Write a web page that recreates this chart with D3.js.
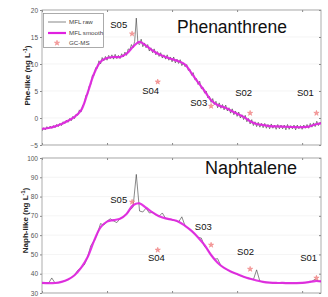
<!DOCTYPE html>
<html><head><meta charset="utf-8">
<script src="https://cdn.jsdelivr.net/npm/d3@7"></script>
<style>
html,body{margin:0;padding:0;background:#fff;}
svg{display:block;font-family:"Liberation Sans",Arial,sans-serif;}
</style></head>
<body>
<svg id="chart" width="328" height="297"></svg>
<script>
// x positions (arbitrary units, ticks unlabeled in the crop)
const xTicks = [0, 1, 2, 3, 4];
const pheRawStep = 0.025, naphRawStep = 0.05, smoothStep = 0.1;

// Phenanthrene
const pheRaw = [
  -2.4,-1.8,-2.2,-1.6, -2.0,-1.5,-1.9,-1.4, -1.8,-1.2,-1.6,-1.0, -1.4,-0.7,-1.0,-0.4, -0.8,-0.1,-0.5,0.3,
  -0.1,0.7,0.5,1.5, 1.1,2.3,2.6,4.2, 4.3,5.9,6.2,7.9, 7.9,9.3,9.2,10.6, 10.0,11.2,10.6,11.4,
  10.7,11.6,11.0,11.7, 10.9,11.8,11.0,11.6, 11.0,11.9,11.3,12.2, 11.6,12.8,12.6,13.6, 13.0,14.2,18.5,13.8,
  13.6,14.6,13.2,13.9, 13.0,13.6,12.4,13.0, 12.1,12.8,11.7,12.3, 11.4,12.1,11.1,11.7, 10.9,11.7,10.7,11.3,
  10.4,11.3,10.2,10.9, 10.1,10.8,9.7,10.2, 9.5,9.9,8.8,9.0, 7.9,8.4,7.1,7.3, 6.2,6.8,5.4,5.7,
  4.6,5.0,3.7,4.0, 2.9,3.6,2.5,3.1, 1.9,2.8,1.8,2.5, 1.5,2.4,1.3,1.9, 0.9,1.7,0.6,1.3,
  0.3,1.1,0.0,0.6, -0.3,0.5,-0.7,-0.1, -1.1,-0.3,-1.4,-0.7, -1.6,-0.8,-1.7,-1.0, -1.8,-1.0,-1.9,-1.2,
  -2.0,-1.1,-1.9,-1.3, -2.1,-1.2,-2.0,-1.3, -2.0,-1.3,-2.2,-1.2, -2.1,-1.4,-2.0,-1.3, -2.2,-1.3,-2.0,-1.4,
  -2.1,-1.3,-1.9,-1.2, -1.9,-1.0,-1.7,-0.9, -1.6,-0.6,-1.4,-0.8, -1.1];
const pheSmooth = [-2.0,-1.85,-1.55,-1.1,-0.5,0.2,1.4,4.6,8.2,10.4,
  11.1,11.3,11.3,11.9,13.2,14.1,13.4,12.5,11.8,11.3,
  10.9,10.5,9.9,8.3,6.6,5.0,3.3,2.4,2.0,1.4,
  0.8,0.2,-0.6,-1.1,-1.3,-1.5,-1.55,-1.6,-1.65,-1.7,
  -1.7,-1.6,-1.2,-1.0];
const pheTicks = [-5, 0, 5, 10, 15, 20];

// Naphtalene
const naphRaw = [35.0,35.3,35.0,37.8,35.2,35.4,35.8,36.2,37.0,38.0,39.2,41.8,43.0,44.5,48.5,54.5,57.0,60.5,66.0,65.2,
  67.2,68.5,67.4,66.5,68.6,69.5,71.0,73.0,74.5,91.5,72.5,72.0,74.0,71.5,71.8,70.5,69.8,71.5,68.7,68.2,
  68.0,67.5,66.8,69.5,64.8,63.6,62.2,60.6,58.8,58.5,54.0,52.5,49.7,47.5,47.8,44.2,43.0,42.0,41.2,40.4,
  39.8,39.0,38.4,37.9,37.4,36.9,42.0,36.1,35.8,35.6,35.4,35.3,35.2,35.2,35.2,35.1,35.1,35.1,35.1,35.2,
  35.2,35.4,35.6,36.0,37.2,36.1,36.0];
const naphSmooth = [35.2,35.1,35.2,35.8,37.0,39.2,43.0,48.5,57.0,64.0,
  67.0,67.8,68.5,71.0,75.5,76.5,74.2,71.8,69.8,68.7,
  68.0,67.0,64.8,62.2,58.8,54.8,49.7,45.7,43.0,41.2,
  39.8,38.4,37.4,36.5,35.8,35.4,35.2,35.2,35.1,35.1,
  35.2,35.6,36.2,36.0];
const naphTicks = [30, 40, 50, 60, 70, 80, 90, 100];

// GC-MS samples
const samples = ["S05", "S04", "S03", "S02", "S01"];
const sampleX = [1.385, 1.78, 2.6, 3.2, 4.22];
const pheGC = [15.6, 6.7, 2.2, 0.9, 0.9];
const naphGC = [77.2, 52.3, 54.9, 42.4, 37.8];
// label anchor points (data coords)
const pheLabX = [1.05, 1.54, 2.28, 2.97, 3.92];
const pheLabY = [16.7, 4.44, 2.22, 4.07, 4.07];
const naphLabX = [1.05, 1.63, 2.35, 3.0, 3.97];
const naphLabY = [76.7, 46.6, 62.7, 49.7, 46.6];

const svg = d3.select("#chart");
const x = d3.scaleLinear().domain([0, 4.29]).range([42, 321]);

function panel(cfg) {
  const y = d3.scaleLinear().domain(cfg.domain).range([cfg.bottom, cfg.top]);
  const g = svg.append("g");
  g.selectAll(".grid").data(cfg.ticks).enter().append("line")
    .attr("x1", 42).attr("x2", 321)
    .attr("y1", d => y(d)).attr("y2", d => y(d))
    .attr("stroke", "#ececec").attr("stroke-width", 0.6);
  const ya = g.append("g").attr("transform", "translate(42,0)")
    .call(d3.axisLeft(y).tickValues(cfg.ticks).tickSize(2).tickPadding(2));
  ya.select(".domain").remove();
  ya.selectAll("line").attr("stroke", "#888");
  ya.selectAll("text").attr("font-size", 6.5).attr("fill", "#555");
  const yr = g.append("g").attr("transform", "translate(321,0)")
    .call(d3.axisLeft(y).tickValues(cfg.ticks).tickSize(2).tickFormat(""));
  yr.select(".domain").remove(); yr.selectAll("line").attr("stroke", "#888");
  const xb = g.append("g").attr("transform", `translate(0,${cfg.bottom})`)
    .call(d3.axisTop(x).tickValues(xTicks).tickSize(2).tickFormat(""));
  xb.select(".domain").remove(); xb.selectAll("line").attr("stroke", "#888");
  const xt = g.append("g").attr("transform", `translate(0,${cfg.top})`)
    .call(d3.axisBottom(x).tickValues(xTicks).tickSize(2).tickFormat(""));
  xt.select(".domain").remove(); xt.selectAll("line").attr("stroke", "#888");
  g.append("rect").attr("x", 42).attr("y", cfg.top).attr("width", 279).attr("height", cfg.bottom - cfg.top)
    .attr("fill", "none").attr("stroke", "#999").attr("stroke-width", 0.8);
  g.append("text").attr("transform", `translate(${cfg.labX},${(cfg.top + cfg.bottom) / 2 + cfg.labDy}) rotate(-90)`)
    .attr("text-anchor", "middle").attr("font-size", 8).attr("font-weight", "bold").attr("fill", "#222")
    .html(cfg.ylabel + ' (ng L<tspan dy="-3" font-size="5.5">-1</tspan><tspan dy="3">)</tspan>');
  const clip = "clip" + cfg.name;
  svg.append("clipPath").attr("id", clip).append("rect")
    .attr("x", 42).attr("y", cfg.top).attr("width", 279).attr("height", cfg.bottom - cfg.top);
  const pg = g.append("g").attr("clip-path", `url(#${clip})`);
  pg.append("path").datum(cfg.raw)
    .attr("d", d3.line().x((d, i) => x(i * cfg.rawStep)).y(d => y(d)))
    .attr("fill", "none").attr("stroke", "#3a3a3a").attr("stroke-width", 0.6);
  pg.append("path").datum(cfg.smooth)
    .attr("d", d3.line().curve(d3.curveCatmullRom).x((d, i) => x(i * smoothStep)).y(d => y(d)))
    .attr("fill", "none").attr("stroke", "#e020e0").attr("stroke-width", 2.2).attr("opacity", 0.9);
  const star = d3.symbol().type(d3.symbolStar).size(9);
  pg.selectAll(".star").data(cfg.gc).enter().append("path")
    .attr("d", star)
    .attr("transform", (d, i) => `translate(${x(sampleX[i])},${y(d)})`)
    .attr("fill", "#f4a0a0").attr("stroke", "#ee6b6b").attr("stroke-width", 0.4);
  g.selectAll(".slab").data(samples).enter().append("text")
    .attr("x", (d, i) => x(cfg.labX2[i])).attr("y", (d, i) => y(cfg.labY2[i]))
    .attr("font-size", 9.5).attr("fill", "#111").text(d => d);
  g.append("text").attr("x", cfg.titleX).attr("y", cfg.titleY)
    .attr("font-size", cfg.titleSize).attr("fill", "#111").text(cfg.title);
  return y;
}

panel({name: "phe", domain: [-5, 20], top: 10, bottom: 145, ticks: pheTicks,
  raw: pheRaw, rawStep: pheRawStep, smooth: pheSmooth, gc: pheGC, labX2: pheLabX, labY2: pheLabY,
  ylabel: "Phe-like", labX: 30, labDy: -2, title: "Phenanthrene", titleX: 177, titleY: 33, titleSize: 17.5});
panel({name: "naph", domain: [30, 100], top: 158, bottom: 293, ticks: naphTicks,
  raw: naphRaw, rawStep: naphRawStep, smooth: naphSmooth, gc: naphGC, labX2: naphLabX, labY2: naphLabY,
  ylabel: "Naph-like", labX: 28, labDy: -5, title: "Naphtalene", titleX: 205, titleY: 174, titleSize: 18});

// legend
const lg = svg.append("g");
lg.append("rect").attr("x", 43.5).attr("y", 13.5).attr("width", 60).attr("height", 34)
  .attr("fill", "#fff").attr("stroke", "#888").attr("stroke-width", 0.7);
const legItems = ["MFL raw", "MFL smooth", "GC-MS"];
const legY = [22, 33, 43];
lg.append("line").attr("x1", 48).attr("x2", 66).attr("y1", legY[0]).attr("y2", legY[0])
  .attr("stroke", "#555").attr("stroke-width", 0.7);
lg.append("line").attr("x1", 48).attr("x2", 66).attr("y1", legY[1]).attr("y2", legY[1])
  .attr("stroke", "#e020e0").attr("stroke-width", 2.2);
lg.append("path").attr("d", d3.symbol().type(d3.symbolStar).size(9))
  .attr("transform", `translate(57,${legY[2]})`).attr("fill", "#f4a0a0").attr("stroke", "#ee6b6b").attr("stroke-width", 0.4);
lg.selectAll(".lt").data(legItems).enter().append("text")
  .attr("x", 69).attr("y", (d, i) => legY[i] + 2.2)
  .attr("font-size", 6.2).attr("fill", "#444").text(d => d);
</script>
</body></html>
